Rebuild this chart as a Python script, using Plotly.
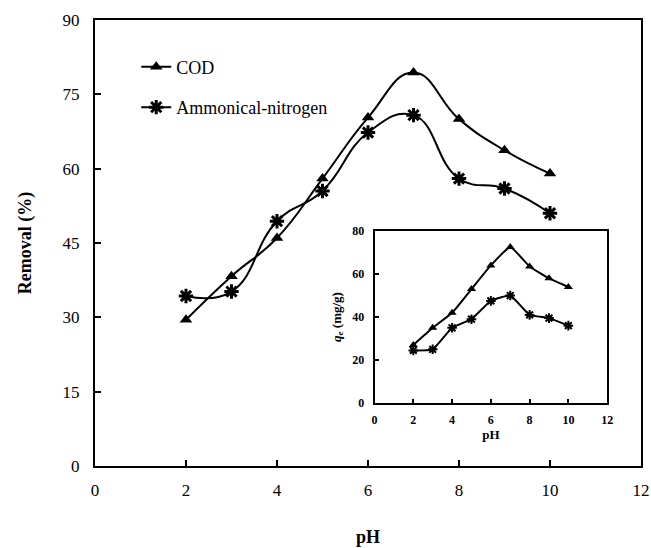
import plotly.graph_objects as go

ph = [2, 3, 4, 5, 6, 7, 8, 9, 10]
cod_removal = [29.5, 38.3, 46.0, 58.0, 70.3, 79.4, 70.0, 63.7, 59.0]
amm_removal = [34.3, 35.2, 49.4, 55.5, 67.3, 70.8, 58.0, 56.0, 51.0]
cod_qe = [27.0, 35.0, 42.0, 53.0, 64.0, 72.5, 63.5, 58.0, 54.0]
amm_qe = [24.5, 25.0, 35.0, 39.0, 47.5, 50.0, 41.0, 39.5, 36.0]

main_xticks = [0, 2, 4, 6, 8, 10, 12]
main_yticks = [0, 15, 30, 45, 60, 75, 90]
inset_yticks = [0, 20, 40, 60, 80]

FONT = "Times New Roman, Liberation Serif, serif"

fig = go.Figure()
fig.add_trace(go.Scatter(x=ph, y=cod_removal, mode="lines+markers", name="COD",
                         legendgroup="a",
                         line=dict(color="black", width=2, shape="spline", smoothing=1.3),
                         marker=dict(symbol="triangle-up", size=11, color="black")))
fig.add_trace(go.Scatter(x=ph, y=amm_removal, mode="lines+markers", name="Ammonical-nitrogen",
                         legendgroup="b",
                         line=dict(color="black", width=2, shape="spline", smoothing=1.3),
                         marker=dict(symbol="asterisk-open", size=12, color="black",
                                     line=dict(color="black", width=3))))
fig.add_trace(go.Scatter(x=ph, y=cod_qe, mode="lines+markers", showlegend=False,
                         xaxis="x2", yaxis="y2",
                         line=dict(color="black", width=2, shape="spline", smoothing=0.4),
                         marker=dict(symbol="triangle-up", size=8, color="black")))
fig.add_trace(go.Scatter(x=ph, y=amm_qe, mode="lines+markers", showlegend=False,
                         xaxis="x2", yaxis="y2",
                         line=dict(color="black", width=2, shape="spline", smoothing=0.4),
                         marker=dict(symbol="asterisk-open", size=8, color="black",
                                     line=dict(color="black", width=2))))

fig.update_layout(
    width=651, height=548,
    margin=dict(l=95, r=10, t=20, b=82, autoexpand=False),
    paper_bgcolor="white", plot_bgcolor="white",
    font=dict(family=FONT, color="black"),
    showlegend=True,
    legend=dict(x=0.0755, y=0.936, xanchor="left", yanchor="top",
                font=dict(family=FONT, size=18, color="black"),
                itemwidth=30, tracegroupgap=14, bgcolor="rgba(0,0,0,0)"),
    xaxis=dict(range=[0, 12], tickvals=main_xticks, ticks="inside", ticklen=6,
               tickcolor="black", tickwidth=1.5, automargin=False,
               showline=True, linecolor="black", linewidth=2, mirror=True,
               showgrid=False, zeroline=False, ticklabelstandoff=8,
               tickfont=dict(family=FONT, size=17),
               title=dict(text="<b>pH</b>", font=dict(family=FONT, size=18), standoff=31)),
    yaxis=dict(range=[0, 90], tickvals=main_yticks, ticks="inside", ticklen=6,
               tickcolor="black", tickwidth=1.5, automargin=False,
               showline=True, linecolor="black", linewidth=2, mirror=True,
               showgrid=False, zeroline=False, ticklabelstandoff=10,
               tickfont=dict(family=FONT, size=17),
               title=dict(text="<b>Removal (%)</b>", font=dict(family=FONT, size=18), standoff=26)),
    xaxis2=dict(domain=[0.512, 0.938], anchor="y2", range=[0, 12],
                tickvals=main_xticks, ticks="inside", ticklen=4,
                tickcolor="black", tickwidth=1.5, automargin=False,
                showline=True, linecolor="black", linewidth=2, mirror=True,
                showgrid=False, zeroline=False, ticklabelstandoff=4,
                tickfont=dict(family=FONT, size=12),
                ticktext=[f"<b>{v}</b>" for v in main_xticks],
                title=dict(text="<b>pH</b>", font=dict(family=FONT, size=13), standoff=2)),
    yaxis2=dict(domain=[0.141, 0.527], anchor="x2", range=[0, 80],
                tickvals=inset_yticks, ticks="inside", ticklen=4,
                tickcolor="black", tickwidth=1.5, automargin=False,
                ticktext=[f"<b>{v}</b>" for v in inset_yticks],
                showline=True, linecolor="black", linewidth=2, mirror=True,
                showgrid=False, zeroline=False, ticklabelstandoff=6,
                tickfont=dict(family=FONT, size=12),
                title=dict(text="<b><i>q</i><sub>e</sub> (mg/g)</b>",
                           font=dict(family=FONT, size=13), standoff=8)),
)

fig.write_html("out.html", config={"displayModeBar": False},
               post_script="document.body.style.margin='0';")
